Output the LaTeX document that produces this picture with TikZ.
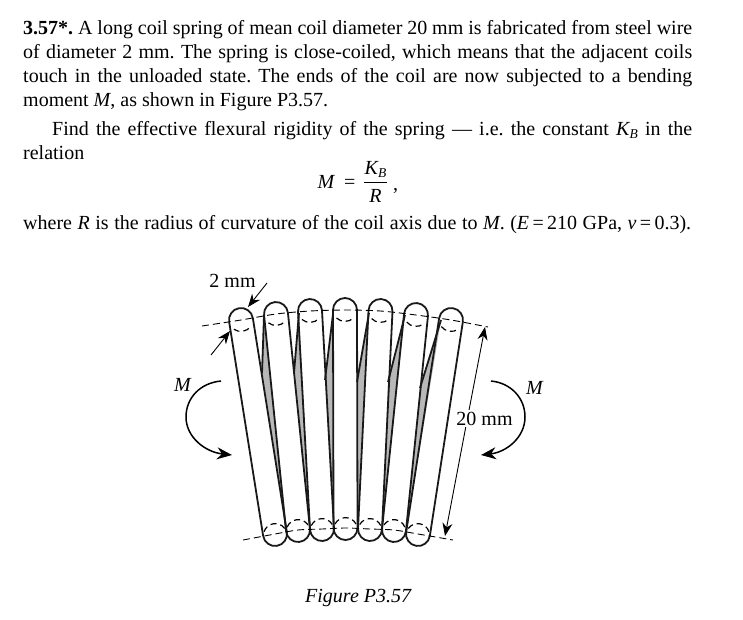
\documentclass[tikz,border=0pt]{standalone}
\usepackage{fontspec}
\setmainfont{Liberation Serif}
\usetikzlibrary{arrows.meta}
\frenchspacing
\newcommand{\KBsym}{\textit{K}\kern-0.5pt\raisebox{-0.16em}{\fontsize{13.5}{13.5}\selectfont\textit{B}}}
\newcommand{\PT}[2]{({\tx+(#1)*\nx+(#2)*\ux},{\ty+(#1)*\ny+(#2)*\uy})}
\newcommand{\PB}[2]{({\bx+(#1)*\nx+(#2)*\ux},{\by+(#1)*\ny+(#2)*\uy})}
\tikzset{
  x=1pt,y=-1pt,
  body/.style={anchor=base west,inner sep=0pt,font=\fontsize{20}{22}\selectfont},
  lab/.style={inner sep=0pt,font=\fontsize{20}{22}\selectfont},
  wire/.style={line width=1.8pt,black!90},
  hidden/.style={line width=1.2pt,dash pattern=on 6pt off 4pt},
  axisline/.style={line width=0.9pt,dash pattern=on 7pt off 4pt},
  dim/.style={line width=0.9pt,-{Stealth[length=13pt,width=10pt]}},
  moment/.style={line width=1.5pt,-{Stealth[length=15pt,width=12pt]}},
  backfill/.style={fill=black!28},
}
\begin{document}
\begin{tikzpicture}
\useasboundingbox (0,0) rectangle (743,619);
% text
\node[body] (l1) at (23,34) {\hbox to 669pt{\textbf{3.57*.} A long coil spring of mean coil diameter 20 mm is fabricated from steel wire}};
\node[body] (l2) at (23,58) {\hbox to 669pt{of diameter 2 mm. The spring is close-coiled, which means that the adjacent coils}};
\node[body] (l3) at (23,82) {\hbox to 669pt{touch in the unloaded state. The ends of the coil are now subjected to a bending}};
\node[body] (l4) at (23,106) {moment \textit{M}, as shown in Figure P3.57.};
\node[body] (l5) at (52,135) {\hbox to 640pt{Find the effective flexural rigidity of the spring — i.e. the constant \KBsym{} in the}};
\node[body] (l6) at (23,159) {relation};
\node[body] (eqM) at (317.5,188) {\textit{M}};
\node[body] (eqeq) at (344,188) {=};
\node[body,anchor=base] (eqK) at (375.5,174) {\KBsym};
\node[body,anchor=base] (eqR) at (375.5,202) {\textit{R}};
\coordinate (ruleL) at (364,182);
\coordinate (ruleR) at (387,182);
\draw[line width=0.9pt] (ruleL) -- (ruleR);
\node[body] (eqc) at (393,190) {,};
\node[body] (l7) at (23,229) {\hbox to 668pt{where \textit{R} is the radius of curvature of the coil axis due to \textit{M}. (\textit{E}\,=\,210 GPa, \textit{ν}\,=\,0.3).}};
% gray back strands
\foreach \ax/\ay/\dx/\dy/\ex/\ey in {
  262/373/264/316/287/530,
  294/373/299/313/310/529,
  325/380/333/314/333.5/529,
  357/382/369/313/357.5/529,
  388/382/405/315/382/530,
  420/388/441/320/406/532}{
  \coordinate (A) at (\ax,\ay);
  \coordinate (D) at (\dx,\dy);
  \coordinate (E) at (\ex,\ey);
  \fill[backfill] (A) -- (D) -- (E) -- cycle;
  \draw[wire] (D) -- (A);
}
% coils
\foreach \tx/\ty/\bx/\by in {
  241/320/275/534,
  276/314/298/530,
  310/311/322/529,
  345/310/345.5/528,
  380.5/311/370/529,
  416/315/394/530,
  451/320/418/534}{
  \pgfmathsetmacro{\len}{veclen(\bx-\tx,\by-\ty)}
  \pgfmathsetmacro{\ux}{(\bx-\tx)/\len}
  \pgfmathsetmacro{\uy}{(\by-\ty)/\len}
  \pgfmathsetmacro{\nx}{\uy}
  \pgfmathsetmacro{\ny}{-\ux}
  \draw[wire,line join=round]
    \PT{-12}{0} .. controls \PT{-12}{-6.6} and \PT{-6.6}{-12} .. \PT{0}{-12}
    .. controls \PT{6.6}{-12} and \PT{12}{-6.6} .. \PT{12}{0}
    -- \PB{12}{0} .. controls \PB{12}{6.6} and \PB{6.6}{12} .. \PB{0}{12}
    .. controls \PB{-6.6}{12} and \PB{-12}{6.6} .. \PB{-12}{0} -- cycle;
  \draw[hidden] \PT{-8.5}{8} .. controls \PT{-4}{12.5} and \PT{4}{12.5} .. \PT{8.5}{8};
  \draw[hidden] \PB{-10.5}{-4} .. controls \PB{-6}{-12.5} and \PB{6}{-12.5} .. \PB{10.5}{-4};
}
% coil axes
\draw[axisline] plot[smooth] coordinates {(202,326) (241,320) (276,314) (310,311) (345,310) (380.5,311) (416,315) (451,320) (488,327)};
\draw[axisline] plot[smooth] coordinates {(243,540) (275,534) (298,530) (322,529) (345.5,528) (370,529) (394,530) (418,534) (453,540)};
% 2 mm
\node[lab] (d2) at (232.5,281) {2 mm};
\coordinate (d2a) at (267,283);
\coordinate (d2b) at (248,307);
\coordinate (d2c) at (211,355);
\coordinate (d2d) at (230,331);
\draw[dim] (d2a) -- (d2b);
\draw[dim] (d2c) -- (d2d);
% 20 mm
\coordinate (d20a) at (465,431);
\coordinate (d20t) at (485,327);
\coordinate (d20b) at (445,536);
\draw[dim] (d20a) -- (d20t);
\draw[dim] (d20a) -- (d20b);
\node[lab,fill=white,inner sep=1.5pt] (d20) at (484.5,418.5) {20 mm};
% moments
\coordinate (m1s) at (221,381);
\coordinate (m1m) at (186,417);
\coordinate (m1e) at (232,455);
\draw[moment] (m1s) .. controls (200,383) and (186,398) .. (m1m) .. controls (186,437) and (205,452) .. (m1e);
\coordinate (m2s) at (491,381);
\coordinate (m2m) at (525,417);
\coordinate (m2e) at (481,455);
\draw[moment] (m2s) .. controls (511,383) and (525,398) .. (m2m) .. controls (525,437) and (507,452) .. (m2e);
\node[lab] (ml) at (183,385) {\textit{M}};
\node[lab] (mr) at (535,388) {\textit{M}};
\node[lab] (cap) at (358.5,598) {\textit{Figure P3.57}};
\end{tikzpicture}
\end{document}
